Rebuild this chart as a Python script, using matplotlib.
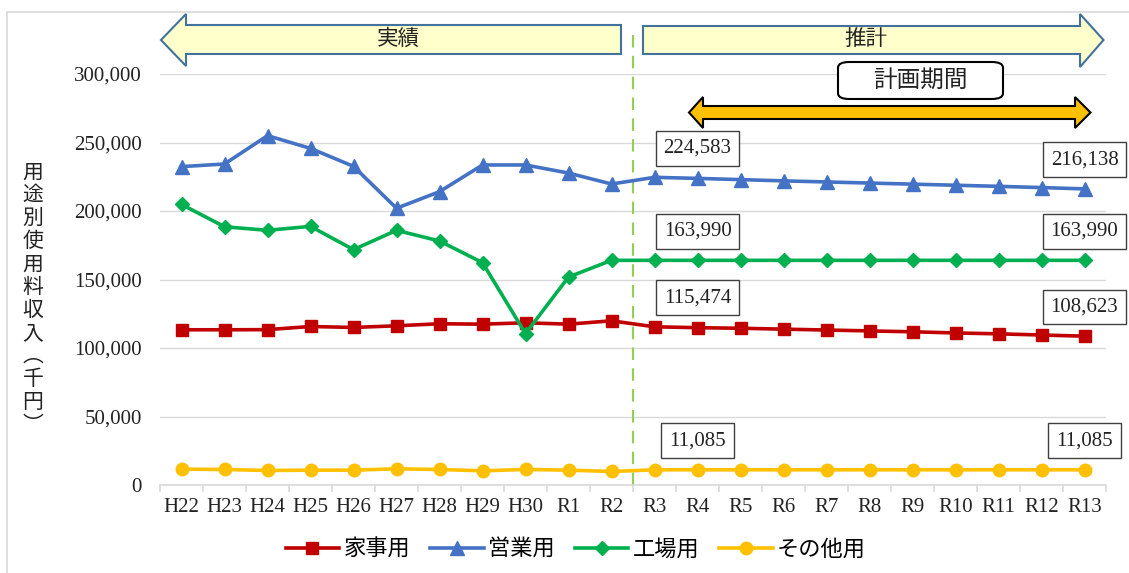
import matplotlib
matplotlib.use("Agg")
import matplotlib.pyplot as plt
from matplotlib.patches import Polygon, FancyBboxPatch
from matplotlib.lines import Line2D
from matplotlib.ticker import FuncFormatter, FixedLocator

plt.rcParams['font.family'] = ['Liberation Serif', 'Noto Sans CJK JP']

# 年度
years = ['H22', 'H23', 'H24', 'H25', 'H26', 'H27', 'H28', 'H29', 'H30',
         'R1', 'R2', 'R3', 'R4', 'R5', 'R6', 'R7', 'R8', 'R9', 'R10',
         'R11', 'R12', 'R13']

# 用途別使用料収入（千円）
kaji = [113300, 113300, 113400, 115700, 115000, 116200, 117700, 117400,
        118400, 117400, 119850, 115474, 114832, 114404, 113762, 113120,
        112478, 111836, 110980, 110338, 109482, 108623]
eigyo = [232400, 234300, 255000, 245700, 232600, 202000, 214100, 233600,
         233600, 227700, 219700, 224583, 223800, 222900, 222000, 221200,
         220400, 219600, 218800, 218000, 217100, 216138]
kojo = [204800, 188500, 185900, 188800, 171800, 185900, 178100, 162300,
        110500, 151800, 163990, 163990, 163990, 163990, 163990, 163990,
        163990, 163990, 163990, 163990, 163990, 163990]
sonota = [11570, 11330, 10600, 10840, 10840, 11800, 11330, 10360, 11330,
          10840, 9870, 11085, 11085, 11085, 11085, 11085, 11085, 11085,
          11085, 11085, 11085, 11085]

series = [
    ('家事用', kaji, '#C00000', 's', 8.5),
    ('営業用', eigyo, '#4472C4', '^', 9.5),
    ('工場用', kojo, '#00B050', 'D', 7.5),
    ('その他用', sonota, '#FFC000', 'o', 9),
]

W, H = 1129, 573
fig = plt.figure(figsize=(W / 100, H / 100), dpi=100)


def px(x, y):
    return (x / W, 1 - y / H)


ax = fig.add_axes([160 / W, 1 - 485 / H, (1106 - 160) / W, (485 - 74) / H])

x = list(range(len(years)))
for name, vals, color, marker, ms in series:
    ax.plot(x, vals, color=color, lw=2.6, marker=marker, ms=ms,
            label=name, zorder=3, clip_on=False)

ax.set_xlim(-0.5, len(years) - 0.5)
ax.set_ylim(0, 300000)
ax.set_yticks(range(0, 300001, 50000))
ax.yaxis.set_major_formatter(FuncFormatter(lambda v, p: f'{int(v):,}'))
ax.grid(axis='y', color='#D9D9D9', lw=1)
ax.set_axisbelow(True)
for s in ['top', 'right', 'left']:
    ax.spines[s].set_visible(False)
ax.spines['bottom'].set_color('#D9D9D9')
ax.spines['bottom'].set_linewidth(1.2)

ax.set_xticks(x)
ax.set_xticklabels(years)
ax.xaxis.set_minor_locator(FixedLocator([i - 0.5 for i in range(len(years) + 1)]))
ax.tick_params(axis='x', which='major', length=0, pad=9, labelsize=15,
               colors='#222222')
ax.tick_params(axis='x', which='minor', length=5, color='#D9D9D9', width=1.2)
ax.tick_params(axis='y', length=0, pad=13, labelsize=15, colors='#222222')

# 区切り線（実績／推計）
ax.axvline(10.5, ymin=0, ymax=(485 - 27) / (485 - 74), color='#92D050',
           lw=1.5, ls=(0, (6, 4)), clip_on=False, zorder=2)

# 推計の最初と最後の値
for name, vals, color, marker, ms in series:
    for i, dx in [(11, 31), (21, 0)]:
        ax.annotate(f'{vals[i]:,}', (i, vals[i]), xytext=(dx, 21),
                    textcoords='offset points', ha='center', va='center',
                    fontsize=15, color='#222222', zorder=5,
                    bbox=dict(boxstyle='square,pad=0.38', fc='white',
                              ec='#404040', lw=1))

# 実績・推計の矢印
left_arrow = [(161, 40), (186, 14), (186, 25), (621, 25), (621, 54),
              (186, 54), (186, 66)]
right_arrow = [(643, 26), (1080, 26), (1080, 14), (1103.5, 40),
               (1080, 67), (1080, 54), (643, 54)]
for pts in (left_arrow, right_arrow):
    fig.patches.append(Polygon([px(*p) for p in pts], closed=True,
                               transform=fig.transFigure, fc='#FFFFCC',
                               ec='#41719C', lw=1.5))
fig.text(*px(398, 40), '実績', ha='center', va='center', fontsize=15.5,
         color='#222222')
fig.text(*px(866, 40), '推計', ha='center', va='center', fontsize=15.5,
         color='#222222')

# 計画期間
box = FancyBboxPatch(px(838, 99), (1003 - 838) / W, (99 - 62) / H,
                     boxstyle='round,pad=0,rounding_size=0.01',
                     transform=fig.transFigure, fc='white', ec='black',
                     lw=1.5)
fig.patches.append(box)
fig.text(*px(920, 81), '計画期間', ha='center', va='center', fontsize=17,
         color='#222222')
double_arrow = [(689, 112.5), (703, 97), (703, 106), (1075, 106),
                (1075, 97), (1090.5, 112.5), (1075, 128), (1075, 119),
                (703, 119), (703, 128)]
fig.patches.append(Polygon([px(*p) for p in double_arrow], closed=True,
                           transform=fig.transFigure, fc='#FFC000',
                           ec='black', lw=1.5))

# 縦書きの軸ラベル
fig.text(*px(33, 300), '\n'.join('用途別使用料収入︵千円︶'), ha='center',
         va='center', fontsize=15, linespacing=1.27, color='#222222')

# 外枠
fig.add_artist(Line2D([7 / W, 7 / W], [0, 1 - 12 / H], color='#D9D9D9',
                      lw=1.2, transform=fig.transFigure))
fig.add_artist(Line2D([7 / W, 1], [1 - 12 / H, 1 - 12 / H], color='#D9D9D9',
                      lw=1.2, transform=fig.transFigure))

fig.legend(loc='center', bbox_to_anchor=px(576, 550), ncol=4,
           frameon=False, fontsize=16, handlelength=2.4, columnspacing=0.9,
           handletextpad=0.2)

fig.savefig('out.png', dpi=100)
